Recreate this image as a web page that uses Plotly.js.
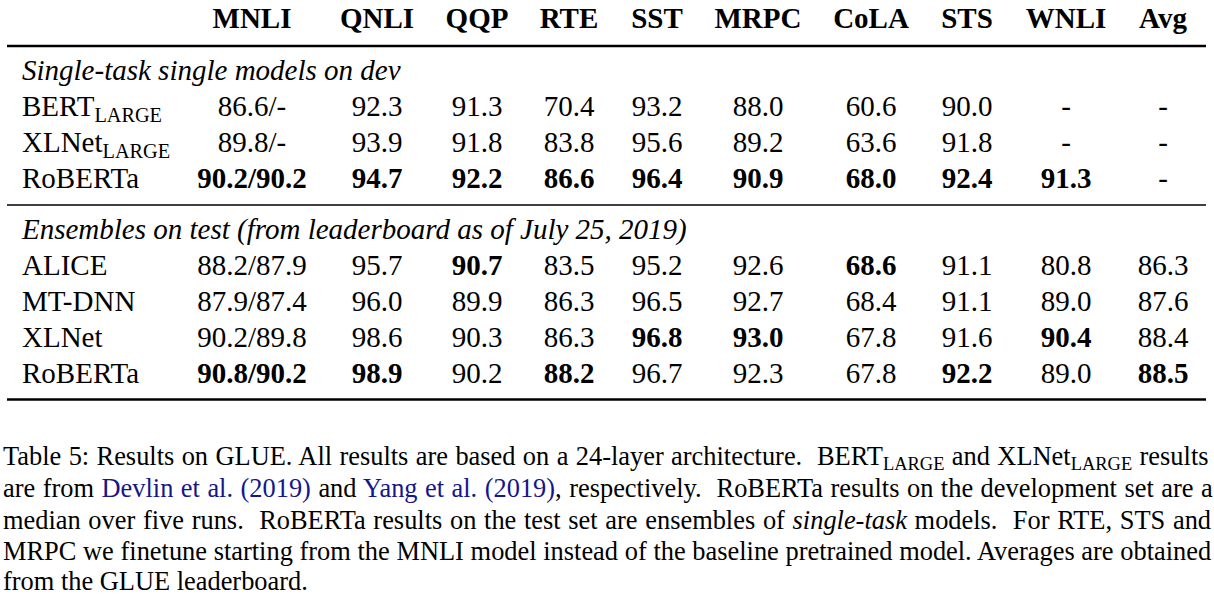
<!DOCTYPE html>
<html>
<head>
<meta charset="utf-8">
<script src="https://cdn.plot.ly/plotly-3.0.1.min.js"></script>
<style>html,body{margin:0;padding:0;background:#fff;}#chart{width:1214px;height:596px;}</style>
</head>
<body>
<div id="chart"></div>
<script>
// ---------------- DATA ----------------
const tasks = ['MNLI', 'QNLI', 'QQP', 'RTE', 'SST', 'MRPC', 'CoLA', 'STS', 'WNLI', 'Avg'];

const devLabel = 'Single-task single models on dev';
const devModels = ['BERT<sub>LARGE</sub>', 'XLNet<sub>LARGE</sub>', 'RoBERTa'];
const devMnliM  = [86.6, 89.8, 90.2];
const devMnliMM = [null, null, 90.2];
// QNLI, QQP, RTE, SST, MRPC, CoLA, STS, WNLI, Avg
const devBert    = [92.3, 91.3, 70.4, 93.2, 88.0, 60.6, 90.0, null, null];
const devXlnet   = [93.9, 91.8, 83.8, 95.6, 89.2, 63.6, 91.8, null, null];
const devRoberta = [94.7, 92.2, 86.6, 96.4, 90.9, 68.0, 92.4, 91.3, null];

const testLabel = 'Ensembles on test (from leaderboard as of July 25, 2019)';
const testModels = ['ALICE', 'MT-DNN', 'XLNet', 'RoBERTa'];
const testMnliM  = [88.2, 87.9, 90.2, 90.8];
const testMnliMM = [87.9, 87.4, 89.8, 90.2];
const testAlice   = [95.7, 90.7, 83.5, 95.2, 92.6, 68.6, 91.1, 80.8, 86.3];
const testMtdnn   = [96.0, 89.9, 86.3, 96.5, 92.7, 68.4, 91.1, 89.0, 87.6];
const testXlnet   = [98.6, 90.3, 86.3, 96.8, 93.0, 67.8, 91.6, 90.4, 88.4];
const testRoberta = [98.9, 90.2, 88.2, 96.7, 92.3, 67.8, 92.2, 89.0, 88.5];

const LINK = 'rgb(22,22,140)';
const captionLines = [
  'Table 5: Results on GLUE. All results are based on a 24-layer architecture.  BERT<sub>LARGE</sub> and XLNet<sub>LARGE</sub> results',
  'are from <span style="color:' + LINK + '">Devlin et al. (2019)</span> and <span style="color:' + LINK + '">Yang et al. (2019)</span>, respectively.  RoBERTa results on the development set are a',
  'median over five runs.  RoBERTa results on the test set are ensembles of <i>single-task</i> models.  For RTE, STS and',
  'MRPC we finetune starting from the MNLI model instead of the baseline pretrained model. Averages are obtained',
  'from the GLUE leaderboard.'
];

// ---------------- LAYOUT CONSTANTS ----------------
const W = 1214, H = 596;
const COL_X = [252, 377, 477, 569, 657, 758, 871, 967, 1066, 1163];
const LABEL_X = 22;
const HEADER_Y = 21;
const DEV_Y = [72.5, 108.5, 144.5, 180.5];          // section label, rows
const TEST_Y = [231.5, 268, 303.5, 339.5, 375.5];   // section label, rows
const RULES = [{y: 46, w: 2.4}, {y: 205, w: 1.7}, {y: 399.5, w: 2.6}];
const RULE_X = [7, 1206];
const CAP_X = 3;
const CAP_Y = [458, 490.5, 522.5, 553.5, 583.5];
const CAP_WORDSPACE = [0.8, 0.9, 1.1, 0.1, 0];   // justification per caption line (px)
const FONT = 'Liberation Serif, Times New Roman, serif';
const TSIZE = 29, CSIZE = 26.4;

// ---------------- BUILD ----------------
function fmt(v) { return v === null ? '-' : v.toFixed(1); }
function maxOf(arr) { const f = arr.filter(v => v !== null); return f.length ? Math.max(...f) : null; }

const cx = [], cy = [], ct = [];   // centered cells
const lx = [], ly = [], lt = [];   // left-aligned labels

tasks.forEach((t, i) => { cx.push(COL_X[i]); cy.push(HEADER_Y); ct.push('<b>' + t + '</b>'); });

function addSection(label, models, mM, mMM, rows, ys) {
  lx.push(LABEL_X); ly.push(ys[0]); lt.push('<i>' + label + '</i>');
  const bestM = maxOf(mM);
  const nCols = rows[0].length;
  const best = [];
  for (let c = 0; c < nCols; c++) best.push(maxOf(rows.map(r => r[c])));
  models.forEach((m, r) => {
    const y = ys[r + 1];
    lx.push(LABEL_X); ly.push(y); lt.push(m);
    let s = fmt(mM[r]) + '/' + fmt(mMM[r]);
    if (mM[r] !== null && mM[r] === bestM) s = '<b>' + s + '</b>';
    cx.push(COL_X[0]); cy.push(y); ct.push(s);
    rows[r].forEach((v, c) => {
      let s2 = fmt(v);
      if (v !== null && v === best[c]) s2 = '<b>' + s2 + '</b>';
      cx.push(COL_X[c + 1]); cy.push(y); ct.push(s2);
    });
  });
}
addSection(devLabel, devModels, devMnliM, devMnliMM, [devBert, devXlnet, devRoberta], DEV_Y);
addSection(testLabel, testModels, testMnliM, testMnliMM, [testAlice, testMtdnn, testXlnet, testRoberta], TEST_Y);

const traces = [
  {x: cx, y: cy, text: ct, mode: 'text', type: 'scatter', textposition: 'middle center',
   textfont: {family: FONT, size: TSIZE, color: '#000'}, hoverinfo: 'skip', showlegend: false},
  {x: lx, y: ly, text: lt, mode: 'text', type: 'scatter', textposition: 'middle right',
   textfont: {family: FONT, size: TSIZE, color: '#000'}, hoverinfo: 'skip', showlegend: false},
  {x: captionLines.map(() => CAP_X), y: CAP_Y, text: captionLines, mode: 'text', type: 'scatter',
   textposition: 'middle right', textfont: {family: FONT, size: CSIZE, color: '#000'},
   hoverinfo: 'skip', showlegend: false}
];

const shapes = RULES.map(r => ({type: 'line', xref: 'x', yref: 'y', x0: RULE_X[0], x1: RULE_X[1],
  y0: r.y, y1: r.y, line: {color: '#000', width: r.w}}));

const layout = {
  width: W, height: H,
  margin: {l: 0, r: 0, t: 0, b: 0, pad: 0},
  paper_bgcolor: '#fff', plot_bgcolor: '#fff',
  xaxis: {range: [0, W], visible: false, showgrid: false, zeroline: false, fixedrange: true},
  yaxis: {range: [H, 0], visible: false, showgrid: false, zeroline: false, fixedrange: true},
  shapes: shapes,
  showlegend: false
};

Plotly.newPlot('chart', traces, layout, {displayModeBar: false, staticPlot: true}).then(gd => {
  // justify the caption: widen word gaps on each line (text itself unchanged)
  const groups = gd.querySelectorAll('.scatterlayer .trace');
  const capTrace = groups[2];
  if (capTrace) {
    capTrace.querySelectorAll('g.textpoint text').forEach((t, i) => {
      if (CAP_WORDSPACE[i]) t.style.wordSpacing = CAP_WORDSPACE[i] + 'px';
    });
  }
});
</script>
</body>
</html>
